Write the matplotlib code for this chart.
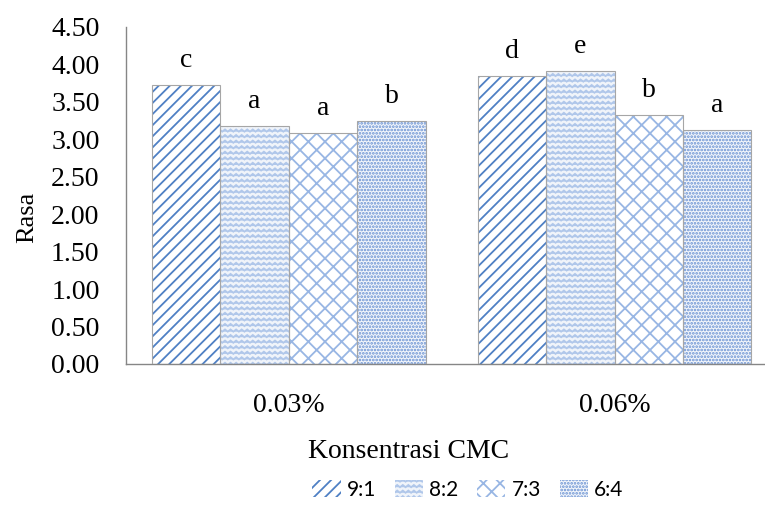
import warnings
import numpy as np
import matplotlib
matplotlib.use("Agg")
import matplotlib.pyplot as plt
from matplotlib import hatch as mhatch
from matplotlib.path import Path
from matplotlib.patches import Patch

warnings.filterwarnings("ignore")

# data
groups = ["0.03%", "0.06%"]
ratios = ["9:1", "8:2", "7:3", "6:4"]
rasa_003 = [3.72, 3.18, 3.08, 3.24]
rasa_006 = [3.84, 3.91, 3.32, 3.13]
notes_003 = ["c", "a", "a", "b"]
notes_006 = ["d", "e", "b", "a"]


# zigzag hatch ("~") to imitate the wave fill of the original
class ZigZagHatch(mhatch.HatchPatternBase):
    def __init__(self, hatch, density):
        self.num_lines = int(hatch.count("~") * density)
        self.n_seg = self.num_lines
        self.num_vertices = self.num_lines * (2 * self.n_seg + 1)

    def set_vertices_and_codes(self, vertices, codes):
        if not self.num_lines:
            return
        steps, h = np.linspace(0.0, 1.0, self.num_lines, False, retstep=True)
        steps += h / 2.0
        xs = np.linspace(0.0, 1.0, 2 * self.n_seg + 1)
        off = np.where(np.arange(len(xs)) % 2 == 0, -h * 0.2, h * 0.2)
        n = len(xs)
        for i, y in enumerate(steps):
            vertices[i * n:(i + 1) * n, 0] = xs
            vertices[i * n:(i + 1) * n, 1] = y + off
            codes[i * n] = Path.MOVETO
            codes[i * n + 1:(i + 1) * n] = Path.LINETO


mhatch._hatch_types.append(ZigZagHatch)

plt.rcParams["hatch.linewidth"] = 1.3
serif = "Liberation Serif"

hatches = ["///", "~~~", "xx", "....."]
faces = ["white", "#f0f4fa", "white", "#f3f6fb"]
hcolors = ["#4f80c4", "#b0c7ea", "#98b6e4", "#6790d2"]

fig = plt.figure(figsize=(7.65, 5.09), dpi=100)
ax = fig.add_axes([0.1647, 0.285, 0.8353, 0.662])

x = np.arange(len(groups))
width = 0.21
values = [rasa_003, rasa_006]
notes = [notes_003, notes_006]

for i in range(len(ratios)):
    vals = [values[g][i] for g in range(len(groups))]
    pos = x + (i - 1.5) * width
    ax.bar(pos, vals, width, color=faces[i], edgecolor=hcolors[i],
           linewidth=0, hatch=hatches[i], zorder=2)
    ax.bar(pos, vals, width, fill=False, edgecolor="#a6a6a6",
           linewidth=0.8, zorder=3)
    for g in range(len(groups)):
        ax.annotate(notes[g][i], (pos[g], vals[g]), xytext=(0, 13),
                    textcoords="offset points", ha="center", va="baseline",
                    fontsize=20, family=serif)

ax.set_xlim(-0.5, 1.462)
ax.set_ylim(0, 4.5)
ax.set_yticks(np.arange(0, 4.51, 0.5))
ax.set_yticklabels([f"{v:.2f}" for v in np.arange(0, 4.51, 0.5)],
                   family=serif, fontsize=20)
ax.set_xticks(x)
ax.set_xticklabels(groups, family=serif, fontsize=20)
ax.tick_params(axis="y", length=0, pad=19)
ax.tick_params(axis="x", length=0, pad=21)
for s in ["top", "right"]:
    ax.spines[s].set_visible(False)
for s in ["left", "bottom"]:
    ax.spines[s].set_color("#868686")
    ax.spines[s].set_linewidth(1.0)

ax.set_ylabel("Rasa", family=serif, fontsize=19)
ax.yaxis.set_label_coords(-0.137, 0.436)
fig.text(409 / 765, 1 - 452 / 509, "Konsentrasi CMC", ha="center",
         va="center", family=serif, fontsize=20)

handles = [Patch(facecolor=faces[i], edgecolor=hcolors[i], linewidth=0,
                 hatch=hatches[i]) for i in range(len(ratios))]
fig.legend(handles, ratios, loc="center", bbox_to_anchor=(468 / 765, 1 - 490 / 509),
           ncol=4, frameon=False, prop={"family": "Lato", "size": 15},
           handlelength=1.35, handleheight=0.85, handletextpad=0.3,
           columnspacing=0.9)

fig.savefig("out.png", dpi=100)
